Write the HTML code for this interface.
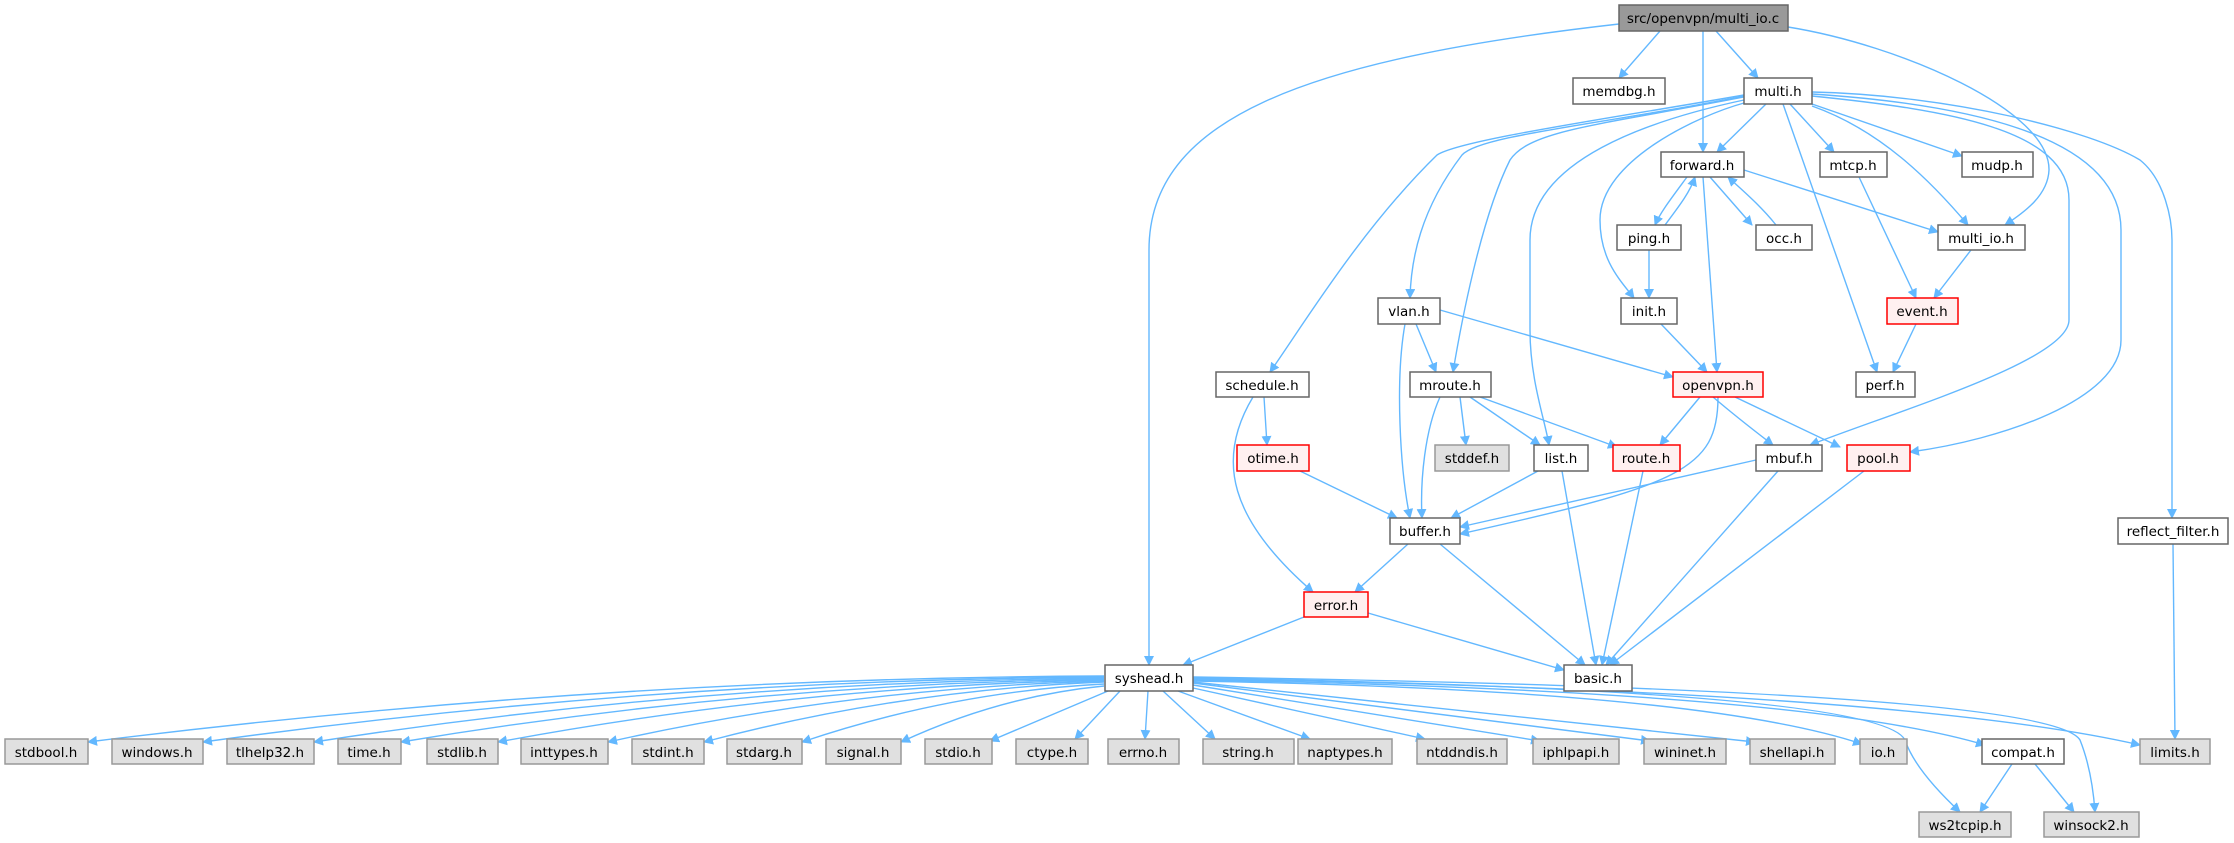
<!DOCTYPE html>
<html><head><meta charset="utf-8"><style>
html,body{margin:0;padding:0;background:#fff;}
svg{display:block;}
text{font-family:"DejaVu Sans","Liberation Sans",sans-serif;font-size:13.5px;fill:#000;text-anchor:middle;}
.e{fill:none;stroke:#63b8ff;stroke-width:1.4;}
.n{fill:#fff;stroke:#666;stroke-width:1.5;}
.g{fill:#e0e0e0;stroke:#999;stroke-width:1.5;}
.r{fill:#fff0f0;stroke:#ff0000;stroke-width:1.5;}
.root{fill:#999;stroke:#666;stroke-width:1.5;}
</style></head><body>
<svg width="2234" height="843" viewBox="0 0 2234 843" xmlns="http://www.w3.org/2000/svg">
<defs><marker id="a" viewBox="0 0 10 10" refX="9" refY="5" markerWidth="10" markerHeight="10" markerUnits="userSpaceOnUse" orient="auto"><path d="M0,0 L10,5 L0,10 z" fill="#63b8ff"/></marker></defs>
<g class="e" marker-end="url(#a)">
<path d="M1660,31 L1619,78"/>
<path d="M1703,31 L1703,152"/>
<path d="M1716,31 L1758,78"/>
<path d="M1619,24 C1300,60 1149,120 1149,250 L1149,665"/>
<path d="M1788,27 C1900,45 2050,110 2049,170 C2048,195 2025,212 2005,225"/>
<path d="M1766,104 L1717,152"/>
<path d="M1790,104 L1834,152"/>
<path d="M1812,104 L1962,156"/>
<path d="M1812,106 C1880,130 1930,180 1968,225"/>
<path d="M1783,104 L1877,372"/>
<path d="M1744,103 C1700,115 1600,160 1600,220 C1600,260 1620,280 1634,298"/>
<path d="M1744,100 C1650,120 1530,160 1530,240 L1530,330 C1530,380 1545,420 1549,445"/>
<path d="M1744,97 C1600,125 1530,130 1510,160 C1480,220 1460,330 1453,372"/>
<path d="M1744,96 C1600,125 1480,135 1462,155 C1420,210 1411,260 1410,298"/>
<path d="M1744,95 C1600,120 1460,140 1437,155 C1360,230 1300,330 1270,372"/>
<path d="M1812,96 C1950,110 2069,130 2069,200 L2069,320 C2069,360 1900,410 1810,445"/>
<path d="M1812,94 C1980,105 2121,140 2121,230 L2121,340 C2121,400 2000,440 1910,452"/>
<path d="M1812,92 C1950,95 2090,130 2140,160 C2165,180 2172,220 2172,240 L2172,518"/>
<path d="M1703,177 L1717,372"/>
<path d="M1687,177 C1670,200 1660,213 1655,225"/>
<path d="M1665,225 C1680,205 1690,192 1695,177"/>
<path d="M1710,177 L1752,225"/>
<path d="M1776,225 C1760,205 1742,190 1728,177"/>
<path d="M1744,170 L1938,232"/>
<path d="M1649,250 L1649,298"/>
<path d="M1859,177 L1916,298"/>
<path d="M1971,250 L1934,298"/>
<path d="M1916,324 L1893,372"/>
<path d="M1661,324 L1707,372"/>
<path d="M1440,310 L1673,377"/>
<path d="M1416,324 L1436,372"/>
<path d="M1405,324 C1395,380 1400,470 1410,518"/>
<path d="M1264,397 L1267,445"/>
<path d="M1253,397 C1215,460 1230,520 1313,592"/>
<path d="M1460,397 L1466,445"/>
<path d="M1470,397 L1540,445"/>
<path d="M1480,397 L1617,447"/>
<path d="M1440,397 C1425,430 1420,480 1422,518"/>
<path d="M1700,397 L1660,445"/>
<path d="M1713,397 C1740,420 1760,435 1773,445"/>
<path d="M1735,397 L1840,447"/>
<path d="M1718,397 C1718,470 1680,485 1460,534"/>
<path d="M1756,460 L1460,527"/>
<path d="M1300,471 L1397,518"/>
<path d="M1538,471 L1451,518"/>
<path d="M1562,471 L1596,665"/>
<path d="M1643,471 L1602,665"/>
<path d="M1778,471 L1606,665"/>
<path d="M1864,471 L1610,665"/>
<path d="M1408,544 L1355,592"/>
<path d="M1440,544 L1585,665"/>
<path d="M1304,617 L1183,665"/>
<path d="M1368,613 L1564,670"/>
<path d="M2173,544 L2175,739"/>
<path d="M2012,764 L1980,812"/>
<path d="M2035,764 L2074,812"/>
<path d="M1104,676 Q600,678 88,742"/>
<path d="M1104,677 Q650,680 203,742"/>
<path d="M1104,678 Q700,682 314,742"/>
<path d="M1104,679 Q750,684 401,742"/>
<path d="M1104,680 Q800,686 498,742"/>
<path d="M1104,681 Q850,688 608,742"/>
<path d="M1104,682 Q900,690 704,742"/>
<path d="M1104,684 Q950,692 802,742"/>
<path d="M1104,686 Q1000,696 901,742"/>
<path d="M1108,691 L990,741"/>
<path d="M1120,691 L1075,739"/>
<path d="M1148,691 L1145,739"/>
<path d="M1163,691 L1215,739"/>
<path d="M1178,691 L1310,739"/>
<path d="M1193,688 L1425,739"/>
<path d="M1193,685 L1540,741"/>
<path d="M1193,683 L1650,741"/>
<path d="M1193,682 L1755,742"/>
<path d="M1193,681 Q1700,690 1862,744"/>
<path d="M1193,680 Q1800,690 1985,745"/>
<path d="M1193,679 Q1900,690 2140,745"/>
<path d="M1193,678 Q1880,690 1905,740 Q1915,770 1960,812"/>
<path d="M1193,677 Q2050,690 2080,740 Q2092,770 2095,812"/>
</g>
<g>
<rect class="root" x="1619" y="5" width="169" height="26"/><text x="1703" y="23">src/openvpn/multi_io.c</text>
<rect class="n" x="1573" y="78" width="92" height="26"/><text x="1619" y="96">memdbg.h</text>
<rect class="n" x="1744" y="78" width="68" height="26"/><text x="1778" y="96">multi.h</text>
<rect class="n" x="1661" y="152" width="83" height="25"/><text x="1702" y="170">forward.h</text>
<rect class="n" x="1820" y="152" width="67" height="25"/><text x="1853" y="170">mtcp.h</text>
<rect class="n" x="1962" y="152" width="71" height="25"/><text x="1997" y="170">mudp.h</text>
<rect class="n" x="1617" y="225" width="64" height="25"/><text x="1649" y="243">ping.h</text>
<rect class="n" x="1756" y="225" width="56" height="25"/><text x="1784" y="243">occ.h</text>
<rect class="n" x="1938" y="225" width="87" height="25"/><text x="1981" y="243">multi_io.h</text>
<rect class="n" x="1378" y="298" width="62" height="26"/><text x="1409" y="316">vlan.h</text>
<rect class="n" x="1621" y="298" width="56" height="26"/><text x="1649" y="316">init.h</text>
<rect class="r" x="1887" y="298" width="71" height="26"/><text x="1922" y="316">event.h</text>
<rect class="n" x="1216" y="372" width="93" height="25"/><text x="1262" y="390">schedule.h</text>
<rect class="n" x="1410" y="372" width="81" height="25"/><text x="1450" y="390">mroute.h</text>
<rect class="r" x="1673" y="372" width="90" height="25"/><text x="1718" y="390">openvpn.h</text>
<rect class="n" x="1856" y="372" width="59" height="25"/><text x="1885" y="390">perf.h</text>
<rect class="r" x="1237" y="445" width="72" height="26"/><text x="1273" y="463">otime.h</text>
<rect class="g" x="1435" y="445" width="74" height="26"/><text x="1472" y="463">stddef.h</text>
<rect class="n" x="1534" y="445" width="54" height="26"/><text x="1561" y="463">list.h</text>
<rect class="r" x="1613" y="445" width="67" height="26"/><text x="1646" y="463">route.h</text>
<rect class="n" x="1756" y="445" width="66" height="26"/><text x="1789" y="463">mbuf.h</text>
<rect class="r" x="1847" y="445" width="63" height="26"/><text x="1878" y="463">pool.h</text>
<rect class="n" x="1390" y="518" width="70" height="26"/><text x="1425" y="536">buffer.h</text>
<rect class="n" x="2118" y="518" width="110" height="26"/><text x="2173" y="536">reflect_filter.h</text>
<rect class="r" x="1304" y="592" width="64" height="25"/><text x="1336" y="610">error.h</text>
<rect class="n" x="1105" y="665" width="88" height="26"/><text x="1149" y="683">syshead.h</text>
<rect class="n" x="1564" y="665" width="68" height="26"/><text x="1598" y="683">basic.h</text>
<rect class="g" x="5" y="739" width="83" height="25"/><text x="46" y="757">stdbool.h</text>
<rect class="g" x="112" y="739" width="91" height="25"/><text x="157" y="757">windows.h</text>
<rect class="g" x="227" y="739" width="87" height="25"/><text x="270" y="757">tlhelp32.h</text>
<rect class="g" x="338" y="739" width="63" height="25"/><text x="369" y="757">time.h</text>
<rect class="g" x="427" y="739" width="71" height="25"/><text x="462" y="757">stdlib.h</text>
<rect class="g" x="521" y="739" width="87" height="25"/><text x="564" y="757">inttypes.h</text>
<rect class="g" x="632" y="739" width="72" height="25"/><text x="668" y="757">stdint.h</text>
<rect class="g" x="727" y="739" width="75" height="25"/><text x="764" y="757">stdarg.h</text>
<rect class="g" x="826" y="739" width="75" height="25"/><text x="863" y="757">signal.h</text>
<rect class="g" x="925" y="739" width="67" height="25"/><text x="958" y="757">stdio.h</text>
<rect class="g" x="1016" y="739" width="72" height="25"/><text x="1052" y="757">ctype.h</text>
<rect class="g" x="1108" y="739" width="71" height="25"/><text x="1143" y="757">errno.h</text>
<rect class="g" x="1203" y="739" width="91" height="25"/><text x="1248" y="757">string.h</text>
<rect class="g" x="1298" y="739" width="94" height="25"/><text x="1345" y="757">naptypes.h</text>
<rect class="g" x="1417" y="739" width="90" height="25"/><text x="1462" y="757">ntddndis.h</text>
<rect class="g" x="1533" y="739" width="86" height="25"/><text x="1576" y="757">iphlpapi.h</text>
<rect class="g" x="1644" y="739" width="82" height="25"/><text x="1685" y="757">wininet.h</text>
<rect class="g" x="1750" y="739" width="85" height="25"/><text x="1792" y="757">shellapi.h</text>
<rect class="g" x="1860" y="739" width="47" height="25"/><text x="1883" y="757">io.h</text>
<rect class="n" x="1982" y="739" width="82" height="25"/><text x="2023" y="757">compat.h</text>
<rect class="g" x="2140" y="739" width="70" height="25"/><text x="2175" y="757">limits.h</text>
<rect class="g" x="1919" y="812" width="92" height="25"/><text x="1965" y="830">ws2tcpip.h</text>
<rect class="g" x="2044" y="812" width="95" height="25"/><text x="2091" y="830">winsock2.h</text>
</g>
</svg>
</body></html>
